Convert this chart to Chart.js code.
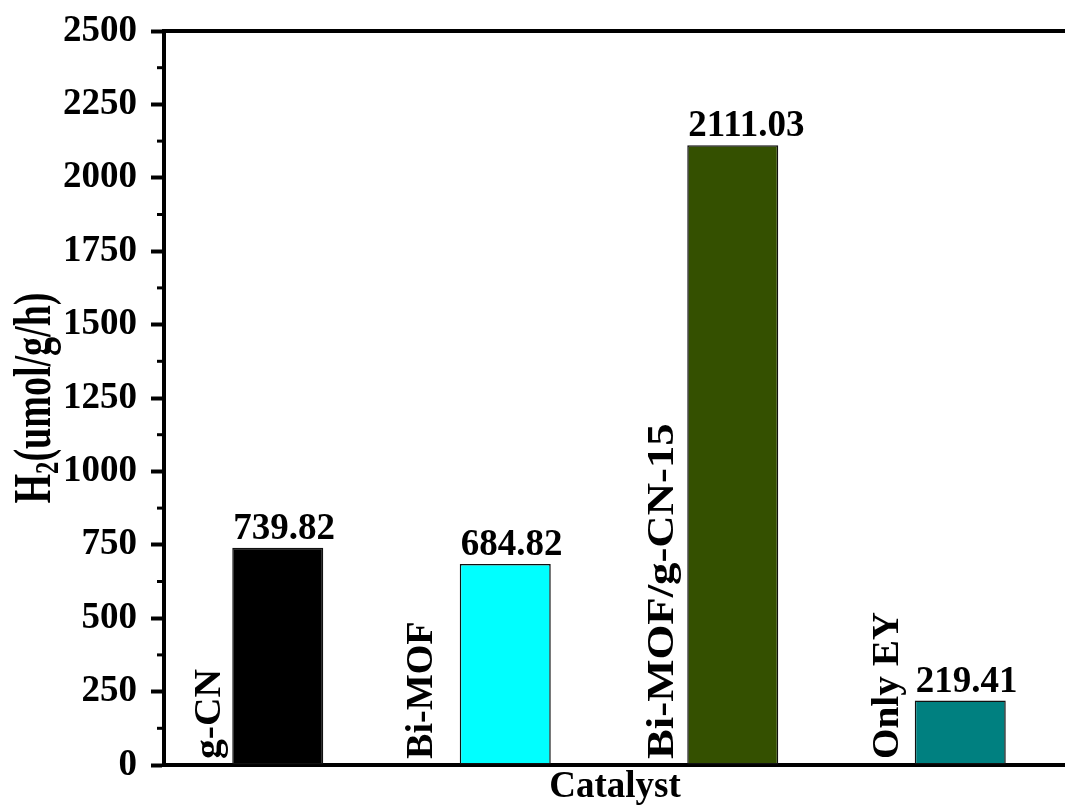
<!DOCTYPE html>
<html>
<head>
<meta charset="utf-8">
<title>H2 evolution by catalyst</title>
<script src="https://cdn.jsdelivr.net/npm/chart.js@4.4.1/dist/chart.umd.min.js"></script>
<style>
  html, body { margin: 0; padding: 0; background: #ffffff; overflow: hidden; }
  #wrap { width: 1065px; height: 810px; overflow: hidden; }
  canvas { display: block; }
</style>
</head>
<body>
<div id="wrap"><canvas id="chart" width="1080" height="810"></canvas></div>
<script>
// Catalysts and their H2 evolution rates (umol/g/h)
const categories = ['g-CN', 'Bi-MOF', 'Bi-MOF/g-CN-15', 'Only EY'];
const h2Rates = [739.82, 684.82, 2111.03, 219.41];
const valueLabels = ['739.82', '684.82', '2111.03', '219.41'];
const barColors = ['#000000', '#00ffff', '#345000', '#008080'];
const yTicks = [0, 250, 500, 750, 1000, 1250, 1500, 1750, 2000, 2250, 2500];

const FONT = "'Liberation Serif', 'Times New Roman', Times, serif";
const FS = 37;

// placement of the rotated category names: gap to the bar's left edge, and length stretch
const nameGap = [12, 28, 14, 17];
const nameStretch = [1.07, 1.03, 1.21, 1.06];

const annotate = {
  id: 'annotate',
  afterDraw(chart) {
    const ctx = chart.ctx;
    const area = chart.chartArea;
    const yScale = chart.scales.y;
    const meta = chart.getDatasetMeta(0);
    ctx.save();
    ctx.fillStyle = '#000';
    ctx.strokeStyle = '#000';

    // top frame line
    ctx.lineWidth = 4;
    ctx.beginPath();
    ctx.moveTo(area.left - 2, area.top);
    ctx.lineTo(area.right + 20, area.top);
    ctx.stroke();

    // minor ticks halfway between labelled ticks
    ctx.lineWidth = 3;
    for (let i = 0; i < yTicks.length - 1; i++) {
      const v = (yTicks[i] + yTicks[i + 1]) / 2;
      const py = yScale.getPixelForValue(v);
      ctx.beginPath();
      ctx.moveTo(area.left - 7, py);
      ctx.lineTo(area.left, py);
      ctx.stroke();
    }

    const mainFont = 'bold ' + FS + 'px ' + FONT;
    ctx.font = mainFont;
    // value labels above the bars
    meta.data.forEach((bar, i) => {
      const left = bar.x - bar.width / 2;
      ctx.textAlign = 'left';
      ctx.textBaseline = 'alphabetic';
      ctx.fillText(valueLabels[i], left + 1, bar.y - 9);
    });

    // rotated category names beside the bars
    meta.data.forEach((bar, i) => {
      const left = bar.x - bar.width / 2;
      ctx.save();
      ctx.translate(left - nameGap[i], area.bottom - 6);
      ctx.rotate(-Math.PI / 2);
      ctx.scale(nameStretch[i], 1);
      ctx.textAlign = 'left';
      ctx.textBaseline = 'alphabetic';
      ctx.fillText(categories[i], 0, 0);
      ctx.restore();
    });

    // x axis title
    ctx.textAlign = 'center';
    ctx.textBaseline = 'alphabetic';
    ctx.fillText('Catalyst', (area.left + area.right) / 2 - 4, 797);

    // y axis title with subscript, drawn in a taller face
    const partA = 'H', partB = '2', partC = '(umol/g/h)';
    const subFont = 'bold 24px ' + FONT;
    ctx.font = mainFont;
    const wA = ctx.measureText(partA).width;
    const wC = ctx.measureText(partC).width;
    ctx.font = subFont;
    const wB = ctx.measureText(partB).width;
    const total = wA + wB + wC;
    const cy = (area.top + area.bottom) / 2;
    ctx.save();
    ctx.translate(50, cy);
    ctx.rotate(-Math.PI / 2);
    ctx.scale(211 / total, 1.4);
    ctx.textAlign = 'left';
    let x0 = -total / 2;
    ctx.font = mainFont;
    ctx.fillText(partA, x0, 0);
    x0 += wA;
    ctx.font = subFont;
    ctx.fillText(partB, x0, 6);
    x0 += wB;
    ctx.font = mainFont;
    ctx.fillText(partC, x0, 0);
    ctx.restore();

    ctx.restore();
  }
};

new Chart(document.getElementById('chart'), {
  type: 'bar',
  data: {
    labels: categories,
    datasets: [{
      data: h2Rates,
      backgroundColor: barColors,
      borderColor: '#111111',
      borderWidth: 1.5,
      borderSkipped: false,
      barPercentage: 0.4,
      categoryPercentage: 1.0
    }]
  },
  options: {
    responsive: false,
    animation: false,
    layout: { padding: { top: 31, right: 6, left: 0, bottom: 0 } },
    plugins: {
      legend: { display: false },
      tooltip: { enabled: false }
    },
    scales: {
      x: {
        grid: { display: true, drawOnChartArea: false, drawTicks: false },
        border: { display: true, color: '#000', width: 4 },
        ticks: { display: false },
        afterFit(scale) { scale.height = 45; scale.paddingLeft = 0; scale.paddingRight = 0; }
      },
      y: {
        min: 0,
        max: 2500,
        afterBuildTicks(scale) { scale.ticks = yTicks.map(v => ({ value: v })); },
        grid: {
          display: true,
          drawOnChartArea: false,
          drawTicks: true,
          tickLength: 13,
          tickWidth: 4,
          tickColor: '#000'
        },
        border: { display: true, color: '#000', width: 4 },
        ticks: {
          padding: 14,
          color: '#000',
          font: { family: FONT, size: FS, weight: 'bold' },
          callback: (value) => String(value)
        },
        afterFit(scale) { scale.width = 164; scale.paddingTop = 0; scale.paddingBottom = 0; }
      }
    }
  },
  plugins: [annotate]
});
</script>
</body>
</html>
